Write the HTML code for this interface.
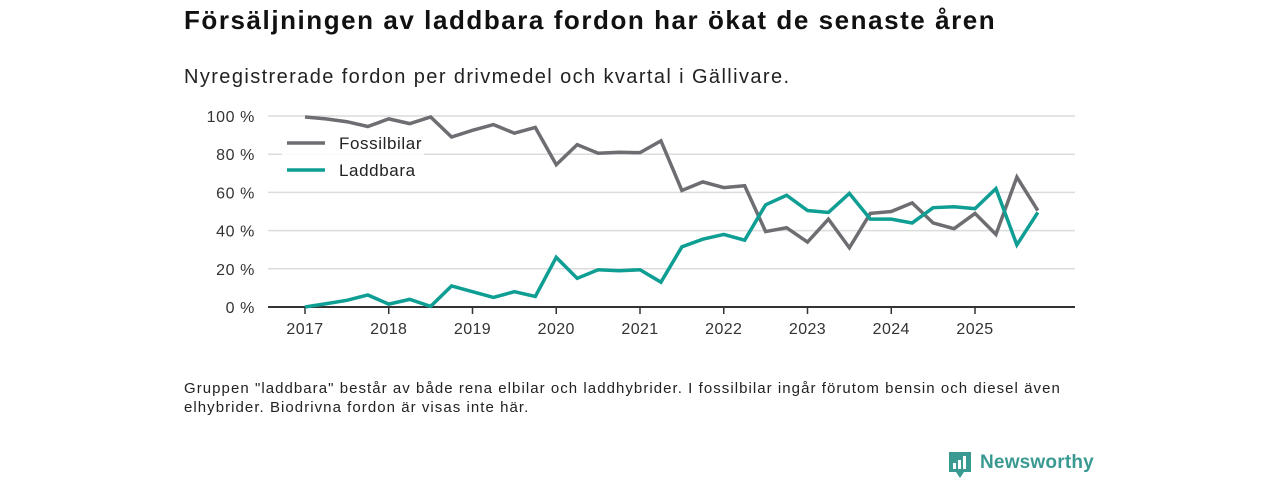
<!DOCTYPE html>
<html><head><meta charset="utf-8">
<style>
body{margin:0;width:1280px;height:480px;background:#fff;font-family:"Liberation Sans",sans-serif;overflow:hidden;position:relative}
.t{position:absolute;white-space:nowrap;color:#111}
</style></head><body>
<div class="t" style="left:184px;top:5px;font-size:26px;font-weight:bold;letter-spacing:1.55px">Försäljningen av laddbara fordon har ökat de senaste åren</div>
<div class="t" style="left:184px;top:66px;font-size:20px;color:#222;letter-spacing:1.4px">Nyregistrerade fordon per drivmedel och kvartal i Gällivare.</div>
<svg id="chart" width="1280" height="480" style="position:absolute;left:0;top:0"></svg>
<div class="t" style="left:184px;top:379px;font-size:15px;line-height:19px;color:#222;letter-spacing:1.05px">Gruppen "laddbara" består av både rena elbilar och laddhybrider. I fossilbilar ingår förutom bensin och diesel även<br>elhybrider. Biodrivna fordon är visas inte här.</div>
<div style="position:absolute;left:948px;top:451px">
<svg width="24" height="30"><path d="M1 1h22v20h-7l-4 6-4-6H1z" fill="#3a9a92"/><rect x="5" y="12" width="3" height="6" fill="#fff"/><rect x="10" y="9" width="3" height="9" fill="#fff"/><rect x="15" y="5" width="3" height="13" fill="#fff"/></svg>
<span style="position:absolute;left:32px;top:1px;font-size:19px;font-weight:bold;color:#3a9a92;white-space:nowrap;letter-spacing:0.2px">Newsworthy</span>
</div>
<script>
const quarters=[];for(let y=2017;y<=2025;y++)for(let q=0;q<4;q++)quarters.push(y+q/4);
const fossil=[99.5,98.5,97,94.5,98.5,96,99.5,89,92.5,95.5,91,94,74.5,85,80.5,81,80.8,87,61,65.5,62.5,63.5,39.5,41.5,34,46,31,49,50,54.5,44,41,49,38,68,50.5];
const laddbara=[0,1.7,3.5,6.3,1.5,4,0.3,11,8,5,8,5.5,26,15,19.5,19,19.5,13,31.5,35.5,38,35,53.5,58.5,50.5,49.5,59.5,46,46,44,52,52.5,51.5,62,32.5,49.5];
const yTicks=[0,20,40,60,80,100];
const xTicks=[2017,2018,2019,2020,2021,2022,2023,2024,2025];
const svg=document.getElementById('chart');const NS='http://www.w3.org/2000/svg';
const X=v=>305+(v-2017)*83.75, Y=v=>307-v*1.91;
function el(t,a){const e=document.createElementNS(NS,t);for(const k in a)e.setAttribute(k,a[k]);svg.appendChild(e);return e;}
yTicks.forEach(v=>{
 if(v>0){const g=el('line',{x1:268,x2:1075,y1:Y(v),y2:Y(v),stroke:'#dcdcdc','stroke-width':1.5});
 
 }
 const t=el('text',{x:255,y:Y(v)+6,'text-anchor':'end','font-size':16,fill:'#333','font-family':'Liberation Sans','letter-spacing':0.6});t.textContent=v+' %';
 
 
});
const ax=el('line',{x1:268,x2:1075,y1:307,y2:307,stroke:'#333','stroke-width':2});


xTicks.forEach(v=>{
 const tk=el('line',{x1:X(v),x2:X(v),y1:307,y2:314,stroke:'#333','stroke-width':1.5});
 
 
 const t=el('text',{x:X(v),y:334,'text-anchor':'middle','font-size':16,fill:'#333','font-family':'Liberation Sans','letter-spacing':0.4});t.textContent=v;
 
 
});
function line(d,c,name){const p=el('polyline',{points:d.map((v,i)=>X(quarters[i])+','+Y(v)).join(' '),fill:'none',stroke:c,'stroke-width':3.5,'stroke-linejoin':'miter'});
 
 }
line(fossil,'#6e6d72','fossilbilar-line');
line(laddbara,'#0f9e93','laddbara-line');
const lb=el('rect',{x:282,y:130,width:142,height:54,fill:'#fff',opacity:0.85});


[['Fossilbilar','#6e6d72',143],['Laddbara','#0f9e93',170]].forEach(([n,c,y])=>{
 const l=el('line',{x1:287,x2:325,y1:y,y2:y,stroke:c,'stroke-width':3.5});
 
 
 const t=el('text',{x:339,y:y+6,'font-size':17,fill:'#222','font-family':'Liberation Sans','letter-spacing':0.6});t.textContent=n;
 
 
});
</script>
</body></html>
